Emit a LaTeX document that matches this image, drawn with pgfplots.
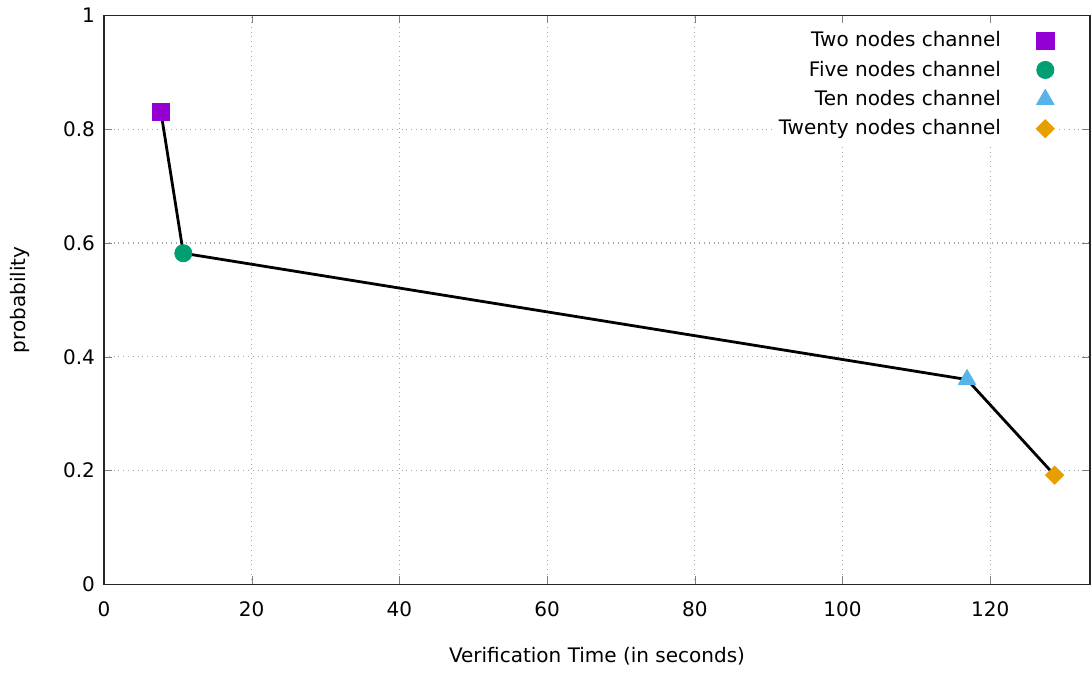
\documentclass[border=0pt]{standalone}
\usepackage{pgfplots}
\pgfplotsset{compat=1.18}
\usepackage{fontspec}
\setmainfont{DejaVu Sans}
\definecolor{gpPurple}{HTML}{9400D3}
\definecolor{gpGreen}{HTML}{009E73}
\definecolor{gpBlue}{HTML}{56B4E9}
\definecolor{gpOrange}{HTML}{E69F00}
\begin{document}
\fontsize{10}{12}\selectfont
\begin{tikzpicture}
\path[use as bounding box] (-52pt,-43.9pt) rectangle (494pt,292.2pt);
\begin{axis}[
  at={(0,0)}, anchor=origin,
  scale only axis, width=493pt, height=284.5pt,
  xmin=0, xmax=133.5, ymin=0, ymax=1,
  xtick={0,20,...,120}, ytick={0,0.2,...,1},
  yticklabels={0,0.2,0.4,0.6,0.8,1},
  tick align=inside, tick pos=both,
  major tick length=4pt,
  /pgf/number format/assume math mode=true,
  tick label style={font=\fontsize{10}{12}\selectfont, color=black},
  xticklabel style={yshift=-5pt},
  yticklabel style={xshift=-1pt},
  grid=major,
  major grid style={gray!70, dotted, line width=0.6pt},
  axis line style={line width=0.7pt, black!85},
  xlabel={Verification Time (in seconds)},
  ylabel={probability},
  label style={font=\fontsize{10}{12}\selectfont},
  xlabel style={at={(axis description cs:0.5,0)}, anchor=center, yshift=-36pt},
  ylabel style={at={(axis description cs:-0.085,0.5)}, anchor=center},
  legend style={at={(axis cs:129.0,0.983)}, anchor=north east, draw=none, fill=white,
    font=\fontsize{10}{12}\selectfont, row sep=1.6pt, inner sep=1pt},
  legend cell align=right,
  legend plot pos=right,
  legend image code/.code={\path (0,0); \draw[#1] plot coordinates {(20pt,0cm)};},
]
\addplot[only marks, mark=square*, mark size=4.3pt, color=gpPurple] coordinates {(7.7,0.831)};
\addlegendentry{Two nodes channel}
\addplot[only marks, mark=*, mark size=4.3pt, color=gpGreen] coordinates {(10.74,0.582)};
\addlegendentry{Five nodes channel}
\addplot[only marks, mark=triangle*, mark size=5pt, color=gpBlue] coordinates {(116.85,0.36)};
\addlegendentry{Ten nodes channel}
\addplot[only marks, mark=square*, mark size=3.2pt, mark options={rotate=45}, color=gpOrange] coordinates {(128.7,0.192)};
\addlegendentry{Twenty nodes channel}
\addplot[black, line width=1.4pt, forget plot] coordinates {(7.7,0.831) (10.74,0.582) (116.85,0.36) (128.7,0.192)};
\end{axis}
\end{tikzpicture}
\end{document}
